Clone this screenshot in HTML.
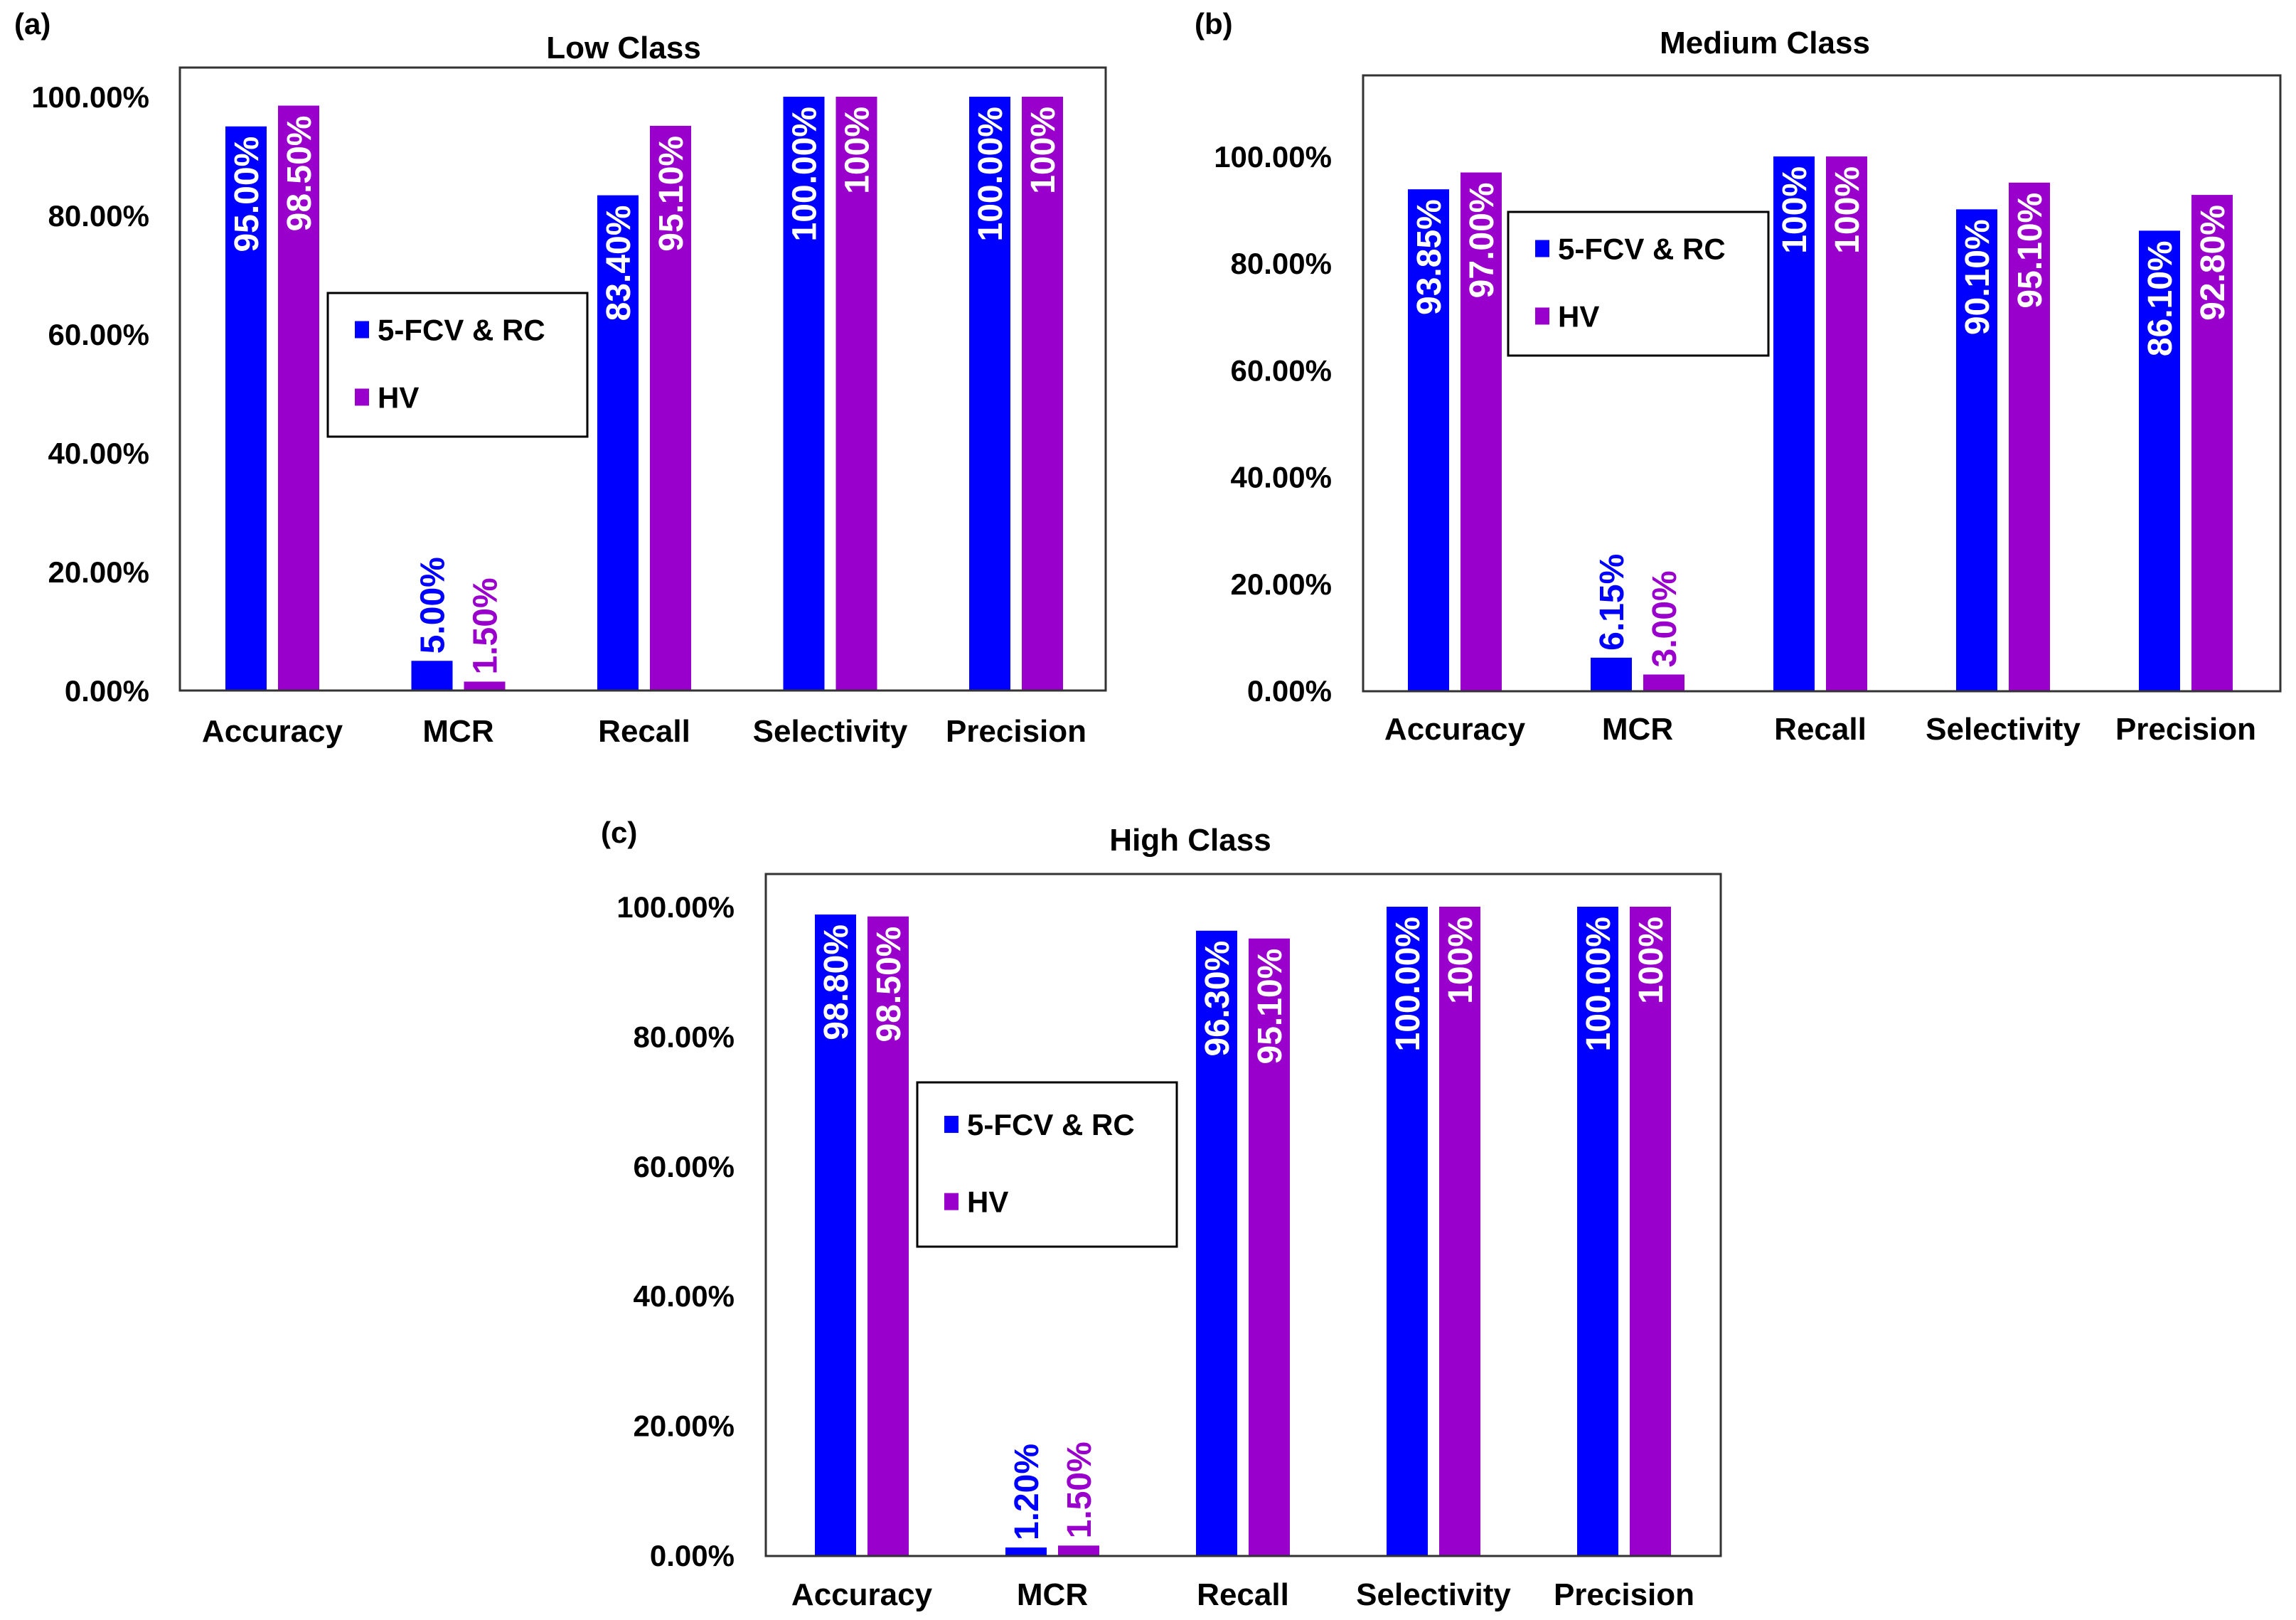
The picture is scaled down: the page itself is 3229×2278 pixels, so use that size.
<!DOCTYPE html>
<html><head><meta charset="utf-8">
<style>
html,body{margin:0;padding:0;background:#fff;}
svg{display:block;}
text{font-family:"Liberation Sans",Arial,sans-serif;font-weight:bold;}
</style></head>
<body>
<svg id="fig" width="3229" height="2278" viewBox="0 0 3229 2278" xmlns="http://www.w3.org/2000/svg"></svg>
<script>
const categories = ["Accuracy","MCR","Recall","Selectivity","Precision"];
const lowRC = [95.00, 5.00, 83.40, 100.00, 100.00];
const lowHV = [98.50, 1.50, 95.10, 100, 100];
const lowRCLabels = ["95.00%","5.00%","83.40%","100.00%","100.00%"];
const lowHVLabels = ["98.50%","1.50%","95.10%","100%","100%"];
const medRC = [93.85, 6.15, 100, 90.10, 86.10];
const medHV = [97.00, 3.00, 100, 95.10, 92.80];
const medRCLabels = ["93.85%","6.15%","100%","90.10%","86.10%"];
const medHVLabels = ["97.00%","3.00%","100%","95.10%","92.80%"];
const highRC = [98.80, 1.20, 96.30, 100.00, 100.00];
const highHV = [98.50, 1.50, 95.10, 100, 100];
const highRCLabels = ["98.80%","1.20%","96.30%","100.00%","100.00%"];
const highHVLabels = ["98.50%","1.50%","95.10%","100%","100%"];
const yTicks = [0,20,40,60,80,100];
const yTickLabels = ["0.00%","20.00%","40.00%","60.00%","80.00%","100.00%"];
const seriesNames = ["5-FCV & RC","HV"];

const NS="http://www.w3.org/2000/svg";
const svg=document.getElementById('fig');
const BLUE="#0000ff", PURPLE="#9900cc";
function el(tag,attrs,parent){const e=document.createElementNS(NS,tag);for(const k in attrs)e.setAttribute(k,attrs[k]);(parent||svg).appendChild(e);return e;}

function panel(p){
  const g=el('g',{});
  
  
  const y=v=>p.y0-(v/100)*(p.y0-p.y100);
  const xc=i=>p.x0c+i*p.step;
  const lbl=el('text',{x:p.lx,y:p.ly,'font-size':42,fill:'#000'},g);lbl.textContent=p.letter;
  
  
  const t=el('text',{x:p.tx,y:p.ty,'font-size':44,'text-anchor':'middle',fill:'#000'},g);t.textContent=p.title;
  
  
  yTicks.forEach((v,i)=>{
    const tt=el('text',{x:p.tickX,y:y(v)+15,'font-size':42,'text-anchor':'end',fill:'#000'},g);
    tt.textContent=yTickLabels[i];
    
    
  });
  const bw=58, gap=16;
  const series=[[p.rc,p.rcL,BLUE],[p.hv,p.hvL,PURPLE]];
  categories.forEach((c,i)=>{
    series.forEach((s,k)=>{
      const x=k===0? xc(i)-gap/2-bw : xc(i)+gap/2;
      const top=y(s[0][i]);
      const r=el('rect',{x:x,y:top,width:bw,height:p.y0-top,fill:s[2]},g);
      
      
      const cx=x+bw/2+17;
      let tx;
      if(s[0][i]>30){
        tx=el('text',{x:0,y:0,'font-size':48,'text-anchor':'end',fill:'#fff',transform:`translate(${cx},${top+14}) rotate(-90)`},g);
      }else{
        tx=el('text',{x:0,y:0,'font-size':48,'text-anchor':'start',fill:s[2],transform:`translate(${cx},${top-10}) rotate(-90)`},g);
      }
      tx.textContent=s[1][i];
      
      
    });
    const cl=el('text',{x:xc(i),y:p.catY,'font-size':44,'text-anchor':'middle',fill:'#000'},g);
    cl.textContent=c;
    
    
  });
  const box=el('rect',{x:p.bx,y:p.by,width:p.bw,height:p.bh,fill:'none',stroke:'#333',"stroke-width":3},g);
  
  
  const lg=el('g',{},g);
  
  
  el('rect',{x:p.lgx,y:p.lgy,width:p.lgw,height:p.lgh,fill:'#fff',stroke:'#000','stroke-width':3},lg);
  [BLUE,PURPLE].forEach((col,k)=>{
    const yy=p.lgy+p.lgh*(k===0?0.26:0.73);
    el('rect',{x:p.lgx+38,y:yy-13,width:20,height:24,fill:col},lg);
    const lt=el('text',{x:p.lgx+70,y:yy+14,'font-size':42,fill:'#000'},lg);
    lt.textContent=seriesNames[k];
    
    
  });
}

panel({id:'low',letter:'(a)',title:'Low Class',rc:lowRC,hv:lowHV,rcL:lowRCLabels,hvL:lowHVLabels,
  lx:20,ly:48,tx:877,ty:82,bx:253,by:95,bw:1302,bh:876,y0:971,y100:136,x0c:383,step:261.5,
  tickX:210,catY:1043,lgx:461,lgy:412,lgw:365,lgh:202});
panel({id:'medium',letter:'(b)',title:'Medium Class',rc:medRC,hv:medHV,rcL:medRCLabels,hvL:medHVLabels,
  lx:1680,ly:48,tx:2482,ty:75,bx:1917,by:106,bw:1290,bh:866,y0:971,y100:220,x0c:2046,step:257,
  tickX:1873,catY:1040,lgx:2121,lgy:298,lgw:366,lgh:202});
panel({id:'high',letter:'(c)',title:'High Class',rc:highRC,hv:highHV,rcL:highRCLabels,hvL:highHVLabels,
  lx:845,ly:1185,tx:1674,ty:1196,bx:1077,by:1229,bw:1343,bh:959,y0:2187,y100:1275,x0c:1212,step:268,
  tickX:1033,catY:2257,lgx:1290,lgy:1522,lgw:365,lgh:231});
</script>
</body></html>
